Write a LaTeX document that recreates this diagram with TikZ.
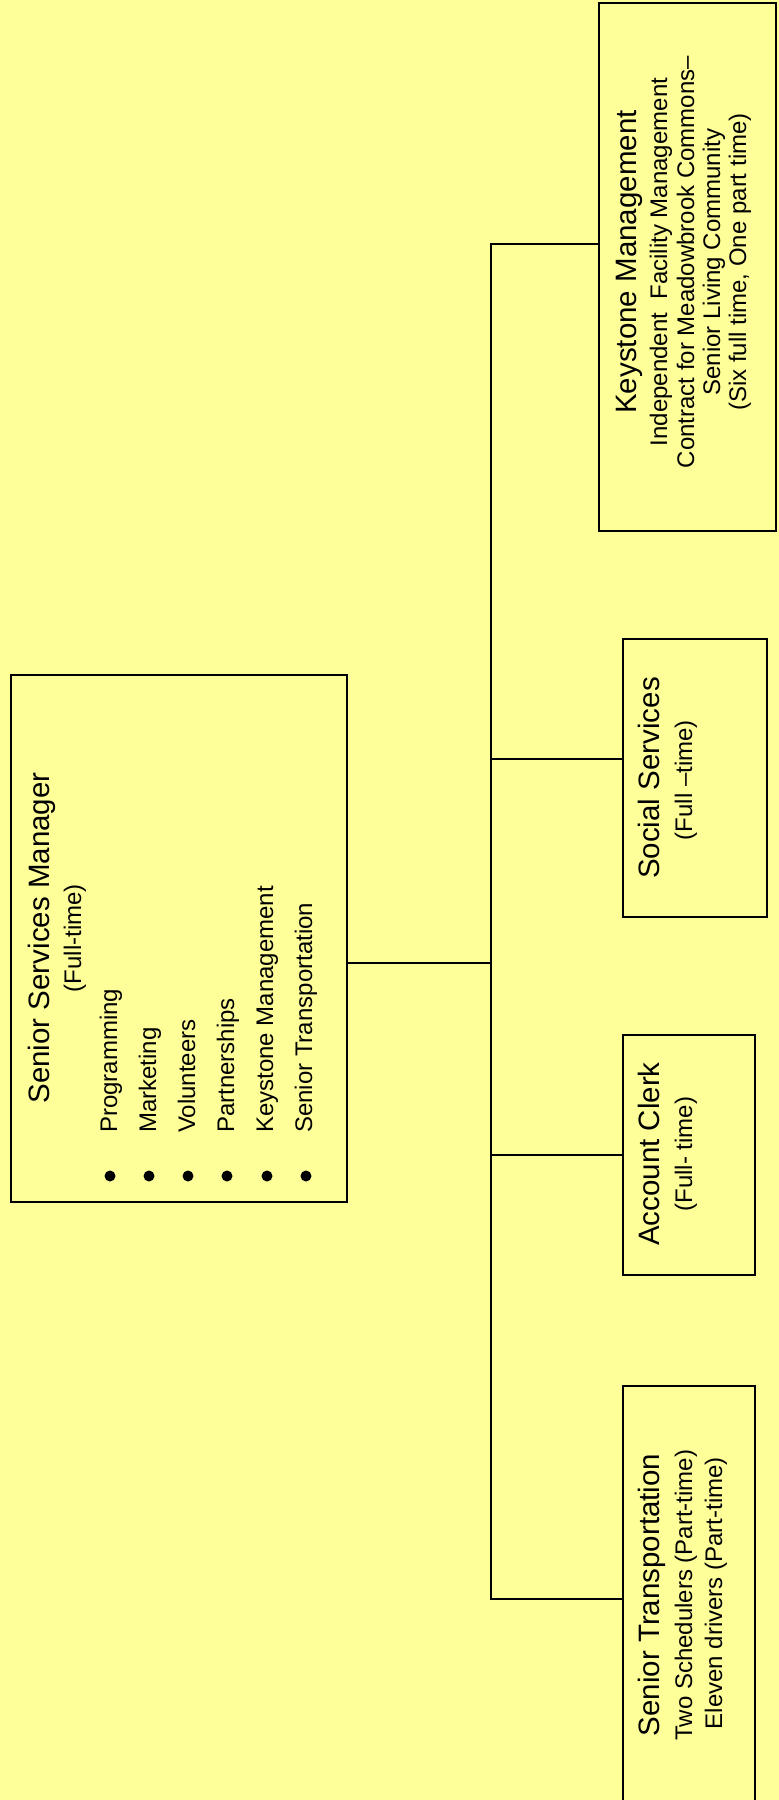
\documentclass[tikz,border=0pt]{standalone}
\usepackage{fontspec}
\setmainfont{Liberation Sans}
\definecolor{memo}{HTML}{FFFF99}

\begin{document}
\begin{tikzpicture}[x=1pt, y=-1pt,
  box/.style={draw, line width=2pt, fill=memo, anchor=north west, inner sep=0pt, outer sep=0pt},
  head/.style={rotate=90, anchor=base, inner sep=0pt, font=\fontsize{29.5}{33}\selectfont},
  sub/.style={rotate=90, anchor=base, inner sep=0pt, font=\fontsize{24}{27}\selectfont},
  item/.style={rotate=90, anchor=base west, inner sep=0pt, font=\fontsize{24}{27}\selectfont},
  dot/.style={circle, fill=black, inner sep=0pt, minimum size=11pt},
  link/.style={line width=1.5pt}
]

\useasboundingbox (0,0) rectangle (779,1800);
\fill[memo] (0,0) rectangle (779,1800);

\node (mgr) [box, minimum width=336pt, minimum height=527pt] at (11,675) {};
\node (mgrHead) [head] at (49,938) {Senior Services Manager};
\node (mgrSub) [sub] at (81,938) {(Full-time)};
\node (itProg) [item] at (117,1133) {Programming};
\node (itMark) [item] at (156,1133) {Marketing};
\node (itVol) [item] at (195,1133) {Volunteers};
\node (itPart) [item] at (234,1133) {Partnerships};
\node (itKey) [item] at (273,1133) {Keystone Management};
\node (itTrans) [item] at (312,1133) {Senior Transportation};
\node (dProg) [dot] at (110,1176) {};
\node (dMark) [dot] at (149,1176) {};
\node (dVol) [dot] at (188,1176) {};
\node (dPart) [dot] at (227,1176) {};
\node (dKey) [dot] at (267,1176) {};
\node (dTrans) [dot] at (306,1176) {};

\node (keystone) [box, minimum width=177pt, minimum height=528pt] at (599,3) {};
\node (keyHead) [head] at (636,262) {Keystone Management};
\node (keyA) [sub] at (667,262) {Independent\ \ Facility Management};
\node (keyB) [sub] at (694,262) {Contract for Meadowbrook Commons–};
\node (keyC) [sub] at (720,262) {Senior Living Community};
\node (keyD) [sub] at (746,262) {(Six full time, One part time)};

\node (social) [box, minimum width=144pt, minimum height=278pt] at (623,639) {};
\node (socHead) [head] at (659,778) {Social Services};
\node (socSub) [sub] at (692,780) {(Full –time)};

\node (clerk) [box, minimum width=132pt, minimum height=240pt] at (623,1035) {};
\node (clerkHead) [head] at (659,1154) {Account Clerk};
\node (clerkSub) [sub] at (692,1154) {(Full- time)};

\node (transport) [box, minimum width=132pt, minimum height=418pt] at (623,1386) {};
\node (transHead) [head] at (659,1595) {Senior Transportation};
\node (transA) [sub] at (692,1595) {Two Schedulers (Part-time)};
\node (transB) [sub] at (722,1593) {Eleven drivers (Part-time)};

\coordinate (jKey) at (491,244);
\coordinate (jSoc) at (491,759);
\coordinate (jMgr) at (491,963);
\coordinate (jClerk) at (491,1155);
\coordinate (jTrans) at (491,1599);

\draw[link, line width=2pt] (keystone.west |- jKey) -- (jKey) -- (jTrans) -- (jTrans -| transport.west);
\draw[link] (mgr.east |- jMgr) -- (jMgr);
\draw[link] (jSoc) -- (jSoc -| social.west);
\draw[link] (jClerk) -- (jClerk -| clerk.west);

\end{tikzpicture}
\end{document}
